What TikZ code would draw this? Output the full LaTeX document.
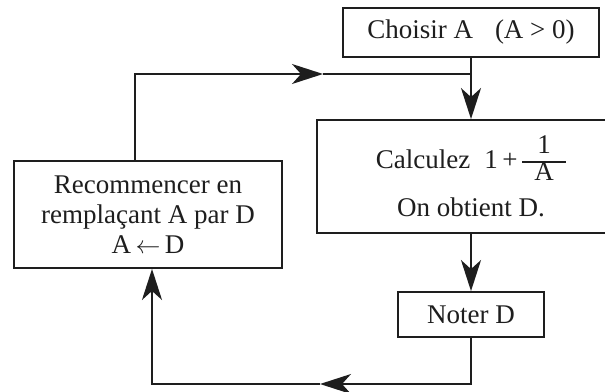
\documentclass[tikz,border=0pt]{standalone}
\usepackage{fontspec}
\setmainfont{Liberation Serif}
\usetikzlibrary{arrows.meta}
\definecolor{ink}{HTML}{1E1E1E}
\newcommand{\myfrac}[2]{\makebox[44pt]{\raisebox{15pt}{#1}}\llap{\makebox[44pt]{\raisebox{-12pt}{#2}}}\llap{\rule[6pt]{44pt}{1.5pt}}}
\begin{document}
\begin{tikzpicture}[x=1pt,y=-1pt,
  box/.style={draw=ink, line width=1.9pt, inner sep=0pt, align=center, text=ink,
              font=\fontsize{27}{30}\selectfont},
  conn/.style={draw=ink, line width=1.9pt},
  arr/.style={conn, -{Stealth[length=31pt,width=20pt,inset=9pt]}}]
\useasboundingbox (0,0) rectangle (605,391);
\clip (0,0) rectangle (605,391);
\fill[white] (0,0) rectangle (605,391);

\node[box, minimum width=256pt, minimum height=49pt] (choisir) at (471,32.5)
  {Choisir A\hspace{22pt}(A > 0)};
\node[box, minimum width=308pt, minimum height=113pt] (calc) at (471,176.5)
  {Calculez\hspace{14pt}1\,+\,\myfrac{1}{A}\\[16pt]On obtient D.};
\node[box, minimum width=268pt, minimum height=107pt] (rec) at (148,214.5)
  {Recommencer en\\rempla\c{c}ant A par D\\A\,$\leftarrow$\,D};
\node[box, minimum width=146pt, minimum height=45pt] (noter) at (471,314.5)
  {Noter D};

\coordinate (jn) at (471,74);
\coordinate (tl) at (135,74);
\coordinate (ta) at (323,74);
\coordinate (br) at (471,384);
\coordinate (ba) at (320,384);
\coordinate (bl) at (152,384);

\draw[arr] (choisir.south) -- (calc.north);
\draw[arr] (calc.south) -- (noter.north);
\draw[arr] (tl |- rec.north) -- (tl) -- (ta);
\draw[conn] (ta) -- (jn);
\draw[arr] (noter.south) -- (br) -- (ba);
\draw[arr] (ba) -- (bl) -- (bl |- rec.south);
\end{tikzpicture}
\end{document}
